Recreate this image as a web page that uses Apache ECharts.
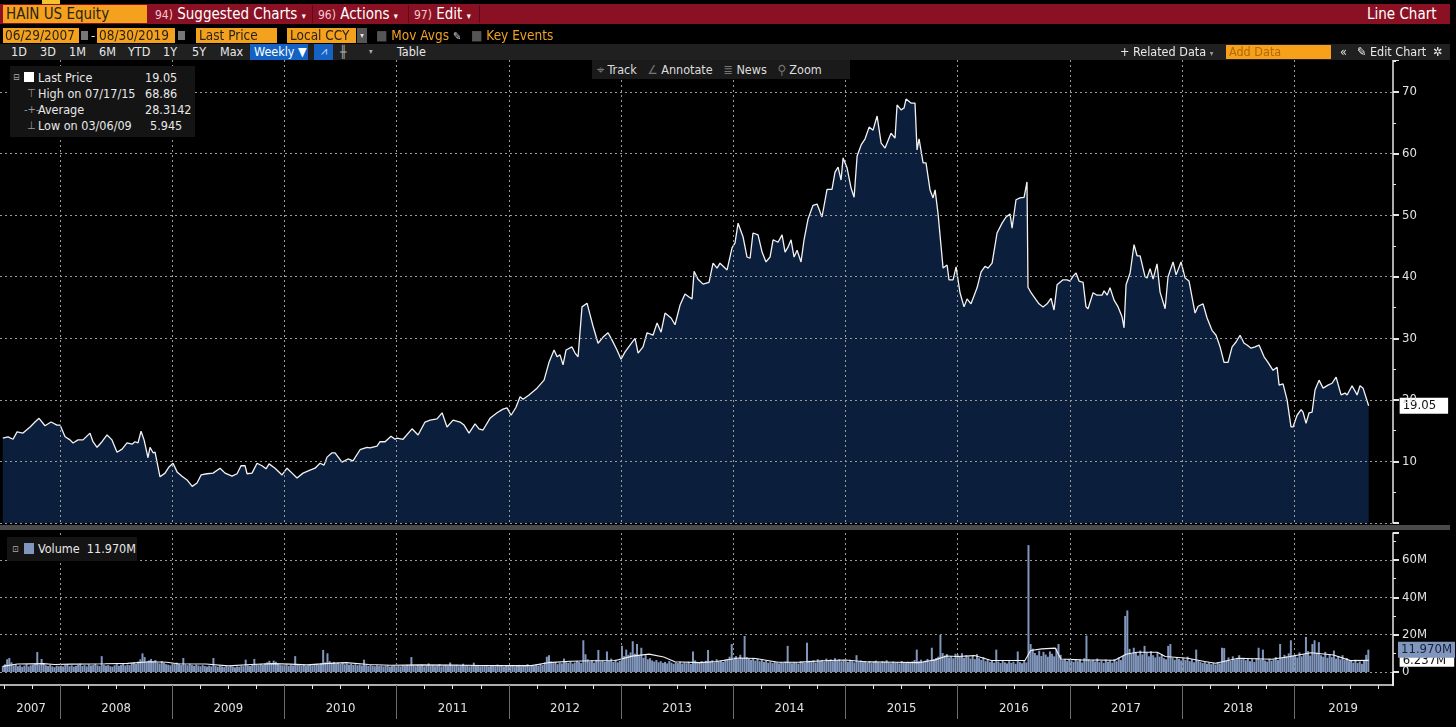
<!DOCTYPE html>
<html>
<head>
    <meta charset="utf-8">
    <title>HAIN US Equity - Line Chart</title>
    <script src="https://cdn.jsdelivr.net/npm/echarts@6/dist/echarts.min.js"></script>
    <style>
        html, body { margin: 0; padding: 0; background: #000; width: 1456px; height: 727px; overflow: hidden; }
        #chart { position: absolute; left: 0; top: 0; width: 1456px; height: 727px; }
        .t { position: absolute; white-space: nowrap; font-family: 'Liberation Sans Narrow', 'DejaVu Sans Condensed', 'Liberation Sans', sans-serif; color: #e8e8e8; }
        .box { position: absolute; }
        .org { background: #f4a11d; color: #2a2418; }
        .red { background: #8a1123; }
        .sep { position: absolute; top: 5px; width: 1px; height: 18px; background: #5a0a16; }
        .r3 { top: 44px; font-size: 12.5px; line-height: 16px; }
    </style>
</head>
<body>
<div id="chart"></div>

<!-- 顶部工具栏 -->
<div class="box" style="left:42px;top:0;width:18px;height:4px;background:#f2c230;"></div>
<div class="box red" style="left:0;top:4px;width:1450px;height:20px;"></div>
<div class="t org" style="left:3px;top:5px;width:141px;height:18px;font-size:15px;line-height:18px;padding-left:3px;">HAIN US Equity</div>
<div class="t" style="left:155px;top:5px;font-size:15px;line-height:18px;color:#fff;"><span style="font-size:12px;color:#f3c9cf;">94)</span> Suggested Charts <span style="font-size:9px;">▾</span></div>
<div class="sep" style="left:312px;"></div>
<div class="t" style="left:318px;top:5px;font-size:15px;line-height:18px;color:#fff;"><span style="font-size:12px;color:#f3c9cf;">96)</span> Actions <span style="font-size:9px;">▾</span></div>
<div class="sep" style="left:408px;"></div>
<div class="t" style="left:414px;top:5px;font-size:15px;line-height:18px;color:#fff;"><span style="font-size:12px;color:#f3c9cf;">97)</span> Edit <span style="font-size:9px;">▾</span></div>
<div class="sep" style="left:479px;"></div>
<div class="t" style="left:1367px;top:5px;font-size:15px;line-height:18px;color:#fff;">Line Chart</div>

<div class="t org" style="left:3px;top:28px;width:74px;height:15px;font-size:13.5px;line-height:15px;padding-left:2px;">06/29/2007</div>
<div class="box" style="left:81px;top:31px;width:7px;height:9px;background:#777;"></div>
<div class="t" style="left:91px;top:28px;font-size:13px;line-height:15px;">-</div>
<div class="t org" style="left:97px;top:28px;width:76px;height:15px;font-size:13.5px;line-height:15px;padding-left:2px;">08/30/2019</div>
<div class="box" style="left:178px;top:31px;width:7px;height:9px;background:#777;"></div>
<div class="t org" style="left:196px;top:28px;width:78px;height:15px;font-size:13.5px;line-height:15px;padding-left:3px;">Last Price</div>
<div class="t org" style="left:287px;top:28px;width:66px;height:15px;font-size:13.5px;line-height:15px;padding-left:3px;">Local CCY</div>
<div class="t" style="left:357px;top:28px;width:10px;height:15px;background:#555;font-size:8px;line-height:15px;text-align:center;">▾</div>
<div class="t" style="left:376px;top:28px;font-size:13.5px;line-height:15px;color:#f0a224;"><span style="color:#555;">■</span> Mov Avgs <span style="color:#ccc;font-size:11px;">✎</span></div>
<div class="t" style="left:471px;top:28px;font-size:13.5px;line-height:15px;color:#f0a224;"><span style="color:#555;">■</span> Key Events</div>

<div class="box" style="left:0;top:44px;width:1450px;height:16px;background:#202020;"></div>
<div class="t r3" style="left:11px;">1D</div>
<div class="t r3" style="left:40px;">3D</div>
<div class="t r3" style="left:69px;">1M</div>
<div class="t r3" style="left:99px;">6M</div>
<div class="t r3" style="left:128px;">YTD</div>
<div class="t r3" style="left:163px;">1Y</div>
<div class="t r3" style="left:192px;">5Y</div>
<div class="t r3" style="left:220px;">Max</div>
<div class="t r3" style="left:250px;width:54px;height:16px;background:#1463c4;padding-left:4px;color:#fff;">Weekly ▼</div>
<div class="t r3" style="left:314px;width:19px;height:16px;background:#1463c4;font-size:11px;text-align:center;color:#cfe0ff;">⩘</div>
<div class="t r3" style="left:340px;font-size:12px;color:#aaa;">╫</div>
<div class="t r3" style="left:369px;font-size:8px;color:#aaa;">▾</div>
<div class="t r3" style="left:397px;">Table</div>
<div class="t r3" style="left:1120px;">+ Related Data <span style="font-size:8px;color:#999;">▾</span></div>
<div class="t org" style="left:1226px;top:45px;width:102px;height:14px;font-size:12.5px;line-height:14px;padding-left:3px;color:#b06a0c;background:#f7a11a;">Add Data</div>
<div class="t r3" style="left:1340px;">«</div>
<div class="t r3" style="left:1357px;">✎ Edit Chart</div>
<div class="t r3" style="left:1433px;">✲</div>

<!-- 图例 -->
<div class="box" style="left:10px;top:66px;width:185px;height:71px;background:#141414;"></div>
<div class="t" style="left:13px;top:70px;font-size:9px;line-height:14px;color:#aaa;">⊟</div>
<div class="box" style="left:24px;top:72px;width:10px;height:10px;background:#fff;"></div>
<div class="t" style="left:38px;top:70px;font-size:12.5px;line-height:15px;">Last Price</div>
<div class="t" style="left:145px;top:70px;font-size:12.5px;line-height:15px;">19.05</div>
<div class="t" style="left:27px;top:86px;font-size:11px;line-height:15px;color:#999;">⊤</div>
<div class="t" style="left:38px;top:86px;font-size:12.5px;line-height:15px;">High on 07/17/15</div>
<div class="t" style="left:145px;top:86px;font-size:12.5px;line-height:15px;">68.86</div>
<div class="t" style="left:24px;top:102px;font-size:11px;line-height:15px;color:#999;">-+-</div>
<div class="t" style="left:38px;top:102px;font-size:12.5px;line-height:15px;">Average</div>
<div class="t" style="left:145px;top:102px;font-size:12.5px;line-height:15px;">28.3142</div>
<div class="t" style="left:27px;top:118px;font-size:11px;line-height:15px;color:#999;">⊥</div>
<div class="t" style="left:38px;top:118px;font-size:12.5px;line-height:15px;">Low on 03/06/09</div>
<div class="t" style="left:150px;top:118px;font-size:12.5px;line-height:15px;">5.945</div>

<div class="box" style="left:592px;top:60px;width:258px;height:19px;background:#1a1a1a;"></div>
<div class="t" style="left:597px;top:61px;font-size:12.5px;line-height:17px;color:#ddd;"><span style="color:#777;">⌖</span> Track &nbsp; <span style="color:#777;">∠</span> Annotate &nbsp; <span style="color:#777;">≣</span> News &nbsp; <span style="color:#777;">⚲</span> Zoom</div>

<div class="box" style="left:0;top:525px;width:1450px;height:5px;background:#4a4a4a;"></div>
<div class="box" style="left:1392px;top:672px;width:2px;height:14px;background:#e6e6e6;"></div>

<div class="box" style="left:7px;top:537px;width:130px;height:24px;background:#141414;"></div>
<div class="t" style="left:12px;top:542px;font-size:9px;line-height:14px;color:#aaa;">⊡</div>
<div class="box" style="left:24px;top:543px;width:10px;height:11px;background:#8196bc;"></div>
<div class="t" style="left:38px;top:541px;font-size:12.5px;line-height:15px;">Volume&nbsp; 11.970M</div>

<script type="text/javascript">
    // 价格 (周线, 读图估计), 时间用小数年
    var priceT = [2007.490,2007.537,2007.581,2007.617,2007.670,2007.733,2007.777,2007.813,2007.866,2007.920,2007.973,
        2008.000,2008.045,2008.089,2008.116,2008.160,2008.205,2008.267,2008.294,2008.330,2008.374,2008.419,2008.463,2008.508,2008.553,2008.597,2008.642,2008.668,2008.695,2008.722,2008.749,2008.784,2008.802,2008.829,2008.847,2008.891,2008.936,2008.971,
        2009.007,2009.043,2009.087,2009.132,2009.178,2009.221,2009.257,2009.310,2009.364,2009.426,2009.471,2009.533,2009.578,2009.613,2009.649,2009.667,2009.711,2009.756,2009.800,2009.836,2009.863,2009.916,2009.979,
        2010.023,2010.068,2010.112,2010.166,2010.228,2010.273,2010.317,2010.353,2010.380,2010.424,2010.451,2010.513,2010.567,2010.611,2010.674,2010.736,2010.763,2010.825,2010.852,2010.897,2010.950,2010.986,
        2011.004,2011.057,2011.137,2011.191,2011.253,2011.298,2011.360,2011.405,2011.449,2011.503,2011.565,2011.601,2011.645,2011.699,2011.734,2011.770,2011.832,2011.895,2011.948,2011.984,
        2012.020,2012.064,2012.100,2012.127,2012.180,2012.251,2012.314,2012.358,2012.403,2012.430,2012.456,2012.483,2012.510,2012.563,2012.590,2012.617,2012.652,2012.697,2012.724,2012.750,2012.795,2012.840,2012.884,2012.920,2012.964,
        2013.000,2013.036,2013.080,2013.125,2013.152,2013.196,2013.232,2013.285,2013.321,2013.357,2013.392,2013.446,2013.481,2013.526,2013.570,2013.606,2013.633,2013.651,2013.686,2013.731,2013.784,2013.820,2013.856,2013.882,2013.945,2013.989,
        2014.016,2014.043,2014.087,2014.123,2014.150,2014.176,2014.221,2014.257,2014.292,2014.328,2014.355,2014.399,2014.435,2014.462,2014.488,2014.515,2014.542,2014.569,2014.604,2014.631,2014.667,2014.711,2014.747,2014.791,2014.836,2014.880,2014.907,2014.934,2014.961,2014.979,
        2015.014,2015.050,2015.077,2015.104,2015.140,2015.175,2015.211,2015.246,2015.282,2015.318,2015.353,2015.406,2015.442,2015.460,2015.496,2015.522,2015.540,2015.584,2015.620,2015.638,2015.656,2015.692,2015.718,2015.754,2015.781,2015.799,2015.825,2015.870,2015.906,2015.923,2015.959,2015.986,
        2016.021,2016.057,2016.084,2016.119,2016.173,2016.209,2016.244,2016.271,2016.307,2016.324,2016.351,2016.396,2016.431,2016.467,2016.485,2016.520,2016.556,2016.592,2016.618,2016.627,2016.654,2016.690,2016.725,2016.761,2016.797,2016.832,2016.859,2016.886,2016.939,2016.975,
        2017.002,2017.029,2017.055,2017.082,2017.118,2017.144,2017.162,2017.207,2017.242,2017.287,2017.305,2017.332,2017.358,2017.394,2017.430,2017.465,2017.483,2017.501,2017.537,2017.572,2017.599,2017.626,2017.670,2017.688,2017.715,2017.742,2017.777,2017.804,2017.849,2017.875,2017.920,2017.947,2017.991,
        2018.027,2018.062,2018.116,2018.143,2018.187,2018.223,2018.267,2018.303,2018.339,2018.374,2018.410,2018.446,2018.481,2018.517,2018.553,2018.579,2018.615,2018.651,2018.686,2018.731,2018.766,2018.811,2018.847,2018.865,2018.900,2018.936,2018.971,2018.989,
        2019.025,2019.061,2019.078,2019.105,2019.132,2019.159,2019.185,2019.221,2019.257,2019.301,2019.337,2019.373,2019.417,2019.453,2019.471,2019.515,2019.560,2019.586,2019.613,2019.663];
    var priceV = [13.8,14.0,13.6,14.8,14.6,15.6,16.4,17.0,15.8,16.4,15.9,
        15.9,14.0,13.5,13.0,13.5,13.5,14.6,13.2,12.3,13.2,14.3,13.5,11.5,12.0,13.0,12.8,13.2,13.0,14.9,13.5,10.6,12.3,11.4,11.5,7.5,8.1,9.1,
        9.7,8.3,7.6,7.0,5.945,6.5,7.8,8.0,8.1,8.9,8.1,7.6,8.0,9.3,9.3,8.0,8.1,9.7,9.3,8.8,9.6,8.9,7.8,
        8.9,8.1,7.3,8.1,8.6,8.9,9.7,9.4,10.7,11.4,11.4,9.9,10.4,10.1,11.9,12.3,12.2,12.5,13.2,13.2,14.1,13.6,
        13.8,13.6,15.3,14.3,16.4,16.7,16.9,17.9,15.6,16.7,16.4,15.9,14.6,16.1,15.3,15.1,17.0,17.9,18.5,18.7,
        17.5,18.8,20.5,20.1,20.8,21.9,23.2,26.1,28.1,27.0,27.3,25.7,28.1,28.6,27.6,27.0,35.1,35.7,33.8,32.0,29.2,30.2,30.9,29.7,28.1,
        26.6,27.8,28.9,30.0,27.6,28.6,30.9,30.5,32.5,31.0,34.1,33.3,32.2,35.4,37.2,36.7,36.4,40.9,39.6,38.8,39.1,42.2,41.4,42.2,41.1,44.7,
        45.5,48.7,46.5,43.2,43.0,47.1,46.8,44.0,42.4,43.2,46.0,45.6,46.8,44.0,44.8,46.0,43.2,44.3,42.4,46.0,49.4,51.6,51.8,49.7,54.2,54.2,57.0,57.8,55.7,59.3,
        57.7,54.4,52.9,59.6,61.4,62.4,64.3,63.8,66.1,61.7,60.9,63.3,62.5,67.9,67.1,67.4,68.86,68.2,68.2,60.6,62.4,58.5,58.5,54.1,52.8,54.1,50.3,41.4,41.9,39.5,39.5,41.6,
        37.4,35.1,36.4,35.6,38.2,40.8,41.7,41.4,42.2,41.9,47.1,48.7,49.7,50.2,47.9,52.5,52.8,52.9,55.4,38.3,37.4,36.5,35.6,35.1,35.6,36.5,34.6,38.7,39.5,39.5,
        39.3,40.1,40.6,39.3,39.1,35.1,34.8,37.4,37.0,37.0,37.7,37.0,38.2,36.2,35.1,33.5,31.7,38.7,40.6,45.2,43.4,43.4,40.0,39.8,41.3,39.6,42.1,37.5,34.8,40.0,42.4,40.3,42.4,
        39.8,39.3,34.1,35.2,35.6,33.3,31.3,30.5,28.6,26.1,26.1,28.6,29.4,30.5,29.2,28.9,28.4,28.6,28.9,27.0,26.1,24.8,25.3,22.4,22.6,20.0,15.6,15.6,
        17.5,18.4,18.0,16.2,17.9,18.0,21.6,23.2,21.9,22.4,22.7,23.7,20.8,21.1,20.8,22.3,20.8,22.3,21.9,19.05];

    // 成交量 (百万股, 每周五), 从 2007-06-29 起
    var volStart = '2007-06-29';
    var vol2007 = [3.2,4.1,6.8,7.5,5.2,3.5,4.0,3.1,3.6,2.8,3.4,4.2,3.0,3.6,3.9,4.4,10.7,3.8,7.0,4.5,3.6,3.2,3.9,3.0,2.6,3.4,3.1];
    var vol2008 = [3.4,3.0,3.8,4.2,3.1,3.6,2.9,3.3,3.9,4.5,3.2,3.7,3.0,4.1,3.5,3.8,4.4,3.6,3.2,8.5,4.0,3.4,3.7,3.1,2.9,3.6,4.2,3.3,3.9,4.6,3.5,4.0,3.7,4.8,5.2,4.4,5.6,6.8,10.0,8.0,5.5,6.2,7.0,5.8,6.4,5.0,4.6,5.9,4.8,4.2,3.9,3.6];
    var vol2009 = [4.8,4.2,5.0,4.5,3.9,7.5,4.1,3.6,4.4,3.8,3.3,4.0,3.5,3.1,3.7,3.2,2.9,3.4,3.0,7.5,3.2,2.8,3.5,3.0,2.6,3.1,2.7,3.3,2.9,2.5,3.0,2.8,3.4,3.1,6.6,3.6,3.2,3.9,7.0,4.1,3.7,4.4,3.8,4.6,5.2,6.0,4.8,6.1,5.5,4.3,3.9,3.6];
    var vol2010 = [3.6,4.0,3.3,3.8,3.5,8.5,4.2,3.7,3.4,3.9,3.2,3.6,4.1,3.5,3.8,4.4,3.9,4.6,11.8,5.2,10.0,5.8,4.8,5.4,4.6,5.0,4.3,4.9,4.1,4.5,3.9,4.4,3.8,4.2,3.6,4.0,3.5,6.6,3.7,3.3,3.9,3.4,3.1,3.6,3.2,3.5,3.0,3.3,3.7,2.9,3.2,3.5,3.0];
    var vol2011 = [3.3,3.0,3.6,3.2,3.8,3.4,8.0,3.5,3.1,3.7,3.3,3.9,3.0,3.4,4.6,3.2,3.6,3.1,3.5,4.2,3.0,3.4,3.8,3.2,5.1,3.6,3.3,3.9,3.1,3.5,4.4,3.2,3.6,3.0,3.4,5.0,3.3,3.7,3.1,3.5,3.2,3.8,3.0,3.4,3.6,3.1,4.0,3.3,3.5,2.9,3.6,3.2];
    var vol2012 = [3.2,3.6,3.0,3.4,3.8,3.1,3.5,3.3,4.2,3.0,3.6,3.2,3.9,3.4,4.4,3.7,5.2,8.2,9.0,5.6,4.8,5.4,4.2,5.0,4.6,7.2,5.3,4.9,5.8,4.5,5.1,6.0,5.4,4.8,17.0,9.5,6.8,5.6,6.2,5.0,6.5,11.8,5.8,6.3,5.5,11.0,6.0,7.2,5.4,6.6,5.2,6.0];
    var vol2013 = [14.0,8.5,12.0,9.2,10.5,16.5,9.8,15.0,8.8,13.0,7.6,9.0,6.8,7.4,6.2,5.6,6.4,5.2,5.8,4.9,5.4,4.6,5.9,5.0,4.4,5.3,4.8,5.6,4.5,5.1,4.7,5.5,4.3,11.0,6.2,5.4,4.9,5.8,5.0,6.0,11.8,5.6,6.3,5.2,6.8,5.7,6.1,5.4,6.6,7.0,8.2,15.0];
    var vol2014 = [7.8,8.5,6.9,9.2,7.4,19.3,8.0,7.2,6.5,7.6,6.1,7.0,5.8,6.6,5.4,6.2,5.0,5.7,4.8,5.5,5.1,4.6,5.3,4.9,5.6,14.0,5.2,4.7,5.4,5.0,4.5,5.8,5.2,4.9,15.7,6.0,5.5,6.3,5.1,6.8,5.9,6.5,5.6,7.2,6.1,6.8,5.8,7.4,6.2,6.9,5.7,6.4];
    var vol2015 = [6.0,5.4,6.6,5.8,5.1,9.0,5.6,6.2,5.3,5.9,5.0,5.7,4.8,5.5,6.1,5.2,4.9,5.8,5.4,6.3,5.1,4.7,5.6,5.0,5.3,4.6,5.9,5.2,4.8,5.5,5.0,5.7,6.4,12.0,5.8,6.6,5.4,6.1,7.0,5.6,13.0,6.8,7.5,8.2,20.0,10.2,8.8,9.6,7.8,8.5,7.4,9.8];
    var vol2016 = [9.5,8.2,10.1,7.6,9.0,8.4,7.2,8.8,6.9,9.6,7.4,6.5,8.0,5.8,6.8,5.4,6.2,5.0,12.0,5.6,4.8,6.0,5.2,4.6,5.8,4.9,5.5,4.4,11.0,5.3,4.7,5.9,5.1,68.0,15.0,12.5,10.2,9.0,11.4,8.6,10.8,9.4,8.2,11.0,9.8,8.4,12.6,15.0,9.2,6.4,7.0,5.8,6.6];
    var vol2017 = [6.2,5.4,7.0,5.8,6.6,5.1,7.4,19.5,6.8,5.9,6.4,5.6,7.2,5.3,6.0,4.9,6.7,5.5,6.3,5.0,6.9,5.7,7.8,6.4,8.6,30.0,33.0,12.4,9.6,13.0,10.2,8.8,11.5,9.4,14.0,10.6,8.4,11.2,9.0,7.8,10.4,8.2,9.6,7.4,6.8,14.0,15.0,7.6,6.5,8.0,7.0,6.2];
    var vol2018 = [7.6,6.4,8.2,5.8,6.9,5.2,12.0,6.0,5.4,4.8,5.6,4.4,5.1,4.2,4.9,4.0,5.3,4.6,13.0,12.8,6.2,7.8,5.9,8.4,6.6,7.2,9.0,6.8,7.6,6.3,7.0,5.8,6.9,5.4,7.4,13.0,6.6,12.0,6.2,5.6,7.2,6.0,6.8,8.0,6.4,15.0,7.6,9.2,8.4,10.0,17.0,8.8];
    var vol2019 = [9.2,7.8,10.5,8.4,9.6,18.8,11.2,8.8,15.0,17.0,10.4,16.0,9.0,8.2,10.8,7.6,9.4,8.0,11.5,7.2,8.6,6.8,9.0,6.4,7.5,5.8,6.2,5.0,6.6,4.8,5.6,4.4,6.0,9.2,11.970];

    // 成交量均线
    var maT = [2007.490,2007.620,2007.850,2007.950,2008.100,2008.400,2008.600,2008.800,2008.950,2009.050,2009.300,2009.500,2009.700,2009.900,
        2010.050,2010.200,2010.400,2010.550,2010.750,2010.950,2011.200,2011.500,2011.750,2012.000,2012.200,2012.350,2012.550,2012.750,2012.950,
        2013.100,2013.250,2013.380,2013.480,2013.700,2013.850,2014.050,2014.200,2014.400,2014.600,2014.800,2015.000,2015.200,2015.450,2015.650,
        2015.800,2015.900,2016.000,2016.150,2016.300,2016.600,2016.650,2016.750,2016.870,2016.920,2017.100,2017.400,2017.500,2017.600,2017.780,
        2017.850,2018.050,2018.200,2018.300,2018.500,2018.800,2018.950,2019.150,2019.350,2019.500,2019.663];
    var maV = [3.0,4.3,4.5,4.0,4.2,4.4,4.6,5.5,5.2,4.4,4.3,3.3,4.0,4.5,
        4.2,3.8,4.6,5.0,4.0,3.6,3.8,3.7,3.5,3.4,3.4,5.0,5.8,6.0,6.2,
        8.5,9.6,8.0,5.5,5.0,5.6,7.5,7.2,5.2,5.3,6.0,6.4,5.4,5.2,5.0,
        6.5,8.6,8.3,8.8,6.2,6.2,11.5,12.4,12.8,7.0,6.5,6.3,9.5,10.6,10.6,
        8.3,7.4,5.6,4.7,7.4,6.8,8.2,10.3,9.1,6.1,6.237];

    // 坐标轴
    var xMin = 2007.465, xMax = 2019.880;
    var yearTicks = [2008,2009,2010,2011,2012,2013,2014,2015,2016,2017,2018,2019];
    var yearLabelPos = [2007.742,2008.5,2009.5,2010.5,2011.5,2012.5,2013.5,2014.5,2015.5,2016.5,2017.5,2018.5,2019.435];
    var quarterTicks = [2007.5, 2007.75];
    yearTicks.forEach(function (y) {
        [0.25, 0.5, 0.75].forEach(function (q) { if (y + q < xMax) quarterTicks.push(y + q); });
    });

    function decYear(d) {
        var y = d.getUTCFullYear();
        var s = Date.UTC(y, 0, 1), e = Date.UTC(y + 1, 0, 1);
        return y + (d.getTime() - s) / (e - s);
    }

    var volAll = [].concat(vol2007, vol2008, vol2009, vol2010, vol2011, vol2012, vol2013,
        vol2014, vol2015, vol2016, vol2017, vol2018, vol2019);
    var t0 = new Date(volStart + 'T00:00:00Z').getTime();
    var volData = volAll.map(function (v, i) {
        return [decYear(new Date(t0 + i * 7 * 86400000)), v];
    });
    var priceData = priceT.map(function (t, i) { return [t, priceV[i]]; });
    var maData = maT.map(function (t, i) { return [t, maV[i]]; });
    var lastVol = volAll[volAll.length - 1];

    var font = "'Liberation Sans Narrow','DejaVu Sans Condensed','Liberation Sans',sans-serif";
    var dotted = {color: '#9a9a9a', type: [2, 3], width: 1};
    var axisColor = '#e6e6e6';

    function gridX(idx) {
        return {
            gridIndex: idx, type: 'value', min: xMin, max: xMax, z: 5,
            axisLine: {show: false}, axisLabel: {show: false},
            axisTick: {show: false, customValues: yearTicks},
            splitLine: {show: true, lineStyle: dotted}
        };
    }
    function hiddenY(idx) {
        return {gridIndex: idx, type: 'value', min: 0, max: 1, show: false};
    }

    var dom = document.getElementById('chart');
    var myChart = echarts.init(dom, null, {renderer: 'canvas'});
    var option = {
        backgroundColor: '#000',
        animation: false,
        textStyle: {fontFamily: font},
        grid: [
            {left: 0, right: 63, top: 60, bottom: 204},
            {left: 0, right: 63, top: 533, bottom: 55},
            // 底部时间轴 (两层: 季度刻度 / 年分隔与年份)
            {left: 0, right: 63, top: 684, bottom: 42},
            {left: 0, right: 63, top: 684, bottom: 42}
        ],
        xAxis: [
            gridX(0),
            gridX(1),
            {
                gridIndex: 2, type: 'value', min: xMin, max: xMax,
                axisLine: {show: true, lineStyle: {color: axisColor, width: 1.5}},
                axisTick: {show: true, customValues: quarterTicks, length: 4, lineStyle: {color: axisColor}},
                axisLabel: {show: false},
                splitLine: {show: false}
            },
            {
                gridIndex: 3, type: 'value', min: xMin, max: xMax,
                axisLine: {show: false},
                axisTick: {show: true, customValues: yearTicks, length: 34, lineStyle: {color: '#6c6c6c'}},
                axisLabel: {
                    show: true, customValues: yearLabelPos, margin: 17,
                    color: '#e2e2e2', fontSize: 13, fontFamily: font,
                    formatter: function (v) { return String(Math.floor(v)); }
                },
                splitLine: {show: false}
            }
        ],
        yAxis: [
            {
                gridIndex: 0, type: 'value', position: 'right', min: 0, max: 75.2, interval: 10, z: 5,
                axisLine: {show: true, lineStyle: {color: axisColor, width: 1.5}},
                axisTick: {show: true, length: 6, lineStyle: {color: axisColor, width: 2}},
                minorTick: {show: true, splitNumber: 2, length: 3, lineStyle: {color: axisColor}},
                axisLabel: {
                    color: '#e2e2e2', fontSize: 13, fontFamily: font, margin: 9, showMaxLabel: false,
                    formatter: function (v) { return v === 0 ? '' : String(v); }
                },
                splitLine: {show: true, showMaxLine: false, lineStyle: dotted}
            },
            {
                gridIndex: 1, type: 'value', position: 'right', min: 0, max: 74.5, interval: 20, z: 5,
                axisLine: {show: true, lineStyle: {color: axisColor, width: 1.5}},
                axisTick: {show: true, length: 6, lineStyle: {color: axisColor, width: 2}},
                minorTick: {show: true, splitNumber: 2, length: 3, lineStyle: {color: axisColor}},
                axisLabel: {
                    color: '#e2e2e2', fontSize: 13, fontFamily: font, margin: 9, showMaxLabel: false,
                    formatter: function (v) { return v === 0 ? '0' : v + 'M'; }
                },
                splitLine: {show: true, showMaxLine: false, lineStyle: dotted}
            },
            hiddenY(2),
            hiddenY(3)
        ],
        series: [
            {
                name: 'Last Price', type: 'line', xAxisIndex: 0, yAxisIndex: 0,
                data: priceData, showSymbol: false, z: 2,
                lineStyle: {color: '#f2f2f2', width: 1.3},
                areaStyle: {color: '#0b1f3d', opacity: 1},
                endLabel: {
                    show: true, distance: 31,
                    formatter: function (p) { return p.value[1].toFixed(2); },
                    backgroundColor: '#ffffff', color: '#111', fontSize: 13, fontFamily: font,
                    padding: [2, 12, 1, 3]
                }
            },
            {
                name: 'Volume', type: 'bar', xAxisIndex: 1, yAxisIndex: 1,
                data: volData, barWidth: 2, z: 2,
                itemStyle: {color: '#8196bc'},
                markLine: {
                    silent: true, symbol: 'none', z: 6,
                    lineStyle: {color: 'rgba(0,0,0,0)', width: 0},
                    data: [{yAxis: lastVol}],
                    label: {
                        show: true, position: 'end', distance: 5,
                        formatter: lastVol.toFixed(3) + 'M',
                        backgroundColor: '#8196bc', color: '#16223b', fontSize: 13, fontFamily: font,
                        padding: [2, 3, 1, 3]
                    }
                }
            },
            {
                name: 'Volume MA', type: 'line', xAxisIndex: 1, yAxisIndex: 1,
                data: maData, showSymbol: false, z: 3,
                lineStyle: {color: '#f2f2f2', width: 1.1},
                endLabel: {
                    show: true, distance: 31,
                    formatter: function (p) { return p.value[1].toFixed(3) + 'M'; },
                    backgroundColor: '#ffffff', color: '#111', fontSize: 13, fontFamily: font,
                    padding: [0, 8, 0, 3]
                }
            }
        ]
    };
    myChart.setOption(option);
</script>
</body>
</html>
